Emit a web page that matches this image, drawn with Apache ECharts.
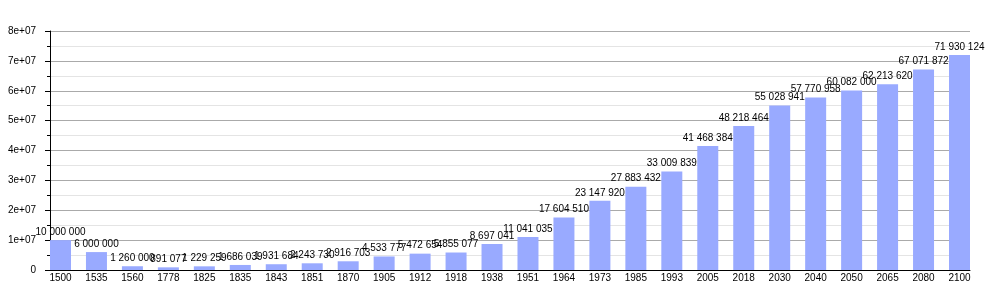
<!DOCTYPE html>
<html>
<head>
<meta charset="utf-8">
<script src="https://cdn.jsdelivr.net/npm/echarts@6/dist/echarts.min.js"></script>
<style>html,body{margin:0;padding:0;background:#fff}#c{width:1000px;height:300px}</style>
</head>
<body>
<div id="c"></div>
<script>
const years = ['1500','1535','1560','1778','1825','1835','1843','1851','1870','1905','1912','1918','1938','1951','1964','1973','1985','1993','2005','2018','2030','2040','2050','2065','2080','2100'];
const population = [10000000,6000000,1260000,891077,1229259,1686039,1931684,2243730,2916703,4533777,5472654,5855077,8697041,11041035,17604510,23147920,27883432,33009839,41468384,48218464,55028941,57770958,60082000,62213620,67071872,71930124];
const yMax = 80000000;
const yStep = 10000000;

function spaced(n){ return String(n).replace(/\B(?=(\d{3})+(?!\d))/g,' '); }
function expo(v){ if(v===0) return '0'; const e = Math.floor(Math.log10(v)); const m = v/Math.pow(10,e); return m+'e+'+String(e).padStart(2,'0'); }

const font = 'Liberation Sans, Arial, sans-serif';
const chart = echarts.init(document.getElementById('c'));
chart.setOption({
  animation:false,
  grid:[
    {left:50,right:30,top:31,bottom:30},
    {left:60.5,right:40.5,top:31,bottom:30}
  ],
  xAxis:[
    {gridIndex:0,type:'value',min:0,max:1,axisLine:{show:true,lineStyle:{color:'#000',width:1}},axisTick:{show:false},axisLabel:{show:false},splitLine:{show:false}},
    {gridIndex:1,type:'category',data:years,boundaryGap:false,axisLine:{show:false},axisTick:{show:false},splitLine:{show:false},
      axisLabel:{interval:0,fontSize:10,color:'#000',fontFamily:font,margin:3}}
  ],
  yAxis:[
    {gridIndex:0,type:'value',min:0,max:yMax,interval:yStep,
      axisLine:{show:true,lineStyle:{color:'#000',width:1}},
      axisTick:{show:true,length:5,lineStyle:{color:'#000'}},
      minorTick:{show:true,splitNumber:2,length:3,lineStyle:{color:'#000'}},
      splitLine:{show:true,lineStyle:{color:'#aaaaaa',width:1}},
      minorSplitLine:{show:true,lineStyle:{color:'#e4e4e4',width:1}},
      axisLabel:{formatter:expo,fontSize:10,color:'#000',fontFamily:font,margin:14}},
    {gridIndex:1,type:'value',min:0,max:yMax,show:false}
  ],
  series:[{
    type:'bar',xAxisIndex:1,yAxisIndex:1,data:population,barWidth:21,
    itemStyle:{color:'#99aaff'},
    label:{show:true,position:'top',distance:3,fontSize:10,color:'#000',fontFamily:font,formatter:p=>spaced(p.value)}
  }]
});
</script>
</body>
</html>
